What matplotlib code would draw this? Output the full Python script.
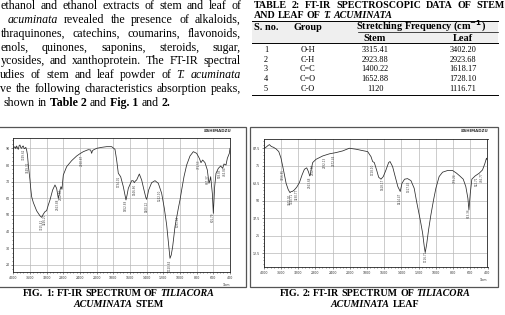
import numpy as np
import matplotlib
matplotlib.use("Agg")
import matplotlib.pyplot as plt
from matplotlib.ticker import FixedLocator

# ---------------- data ----------------
# (visible x start, justified?, words)
para_lines = [
    (0.5, True, [("ethanol", "n"), ("and", "n"), ("ethanol", "n"), ("extracts", "n"), ("of", "n"),
                 ("stem", "n"), ("and", "n"), ("leaf", "n"), ("of", "n")]),
    (7.3, True, [("acuminata", "i"), ("revealed", "n"), ("the", "n"), ("presence", "n"), ("of", "n"),
                 ("alkaloids,", "n")]),
    (0.5, True, [("thraquinones,", "n"), ("catechins,", "n"), ("coumarins,", "n"), ("flavonoids,", "n")]),
    (0.5, True, [("enols,", "n"), ("quinones,", "n"), ("saponins,", "n"), ("steroids,", "n"), ("sugar,", "n")]),
    (0.5, True, [("ycosides,", "n"), ("and", "n"), ("xanthoprotein.", "n"), ("The", "n"), ("FT-IR", "n"),
                 ("spectral", "n")]),
    (0.3, True, [("udies", "n"), ("of", "n"), ("stem", "n"), ("and", "n"), ("leaf", "n"), ("powder", "n"),
                 ("of", "n"), ("T.", "i"), ("acuminata", "i")]),
    (0.5, True, [("ve", "n"), ("the", "n"), ("following", "n"), ("characteristics", "n"),
                 ("absorption", "n"), ("peaks,", "n")]),
    (4.0, False, [("shown", "n"), ("in", "n"), ("Table 2", "b"), ("and", "n"), ("Fig. 1", "b"), ("and", "n"),
                  ("2.", "b")]),
]

table_title1 = [("TABLE", "b"), ("2:", "b"), ("FT-IR", "b"), ("SPECTROSCOPIC", "b"), ("DATA", "b"),
                ("OF", "b"), ("STEM", "b")]
table_title2 = [("AND", "b"), ("LEAF", "b"), ("OF", "b"), ("T.", "bi"), ("ACUMINATA", "bi")]
table_sno = ["1", "2", "3", "4", "5"]
table_group = ["O-H", "C-H", "C=C", "C=O", "C-O"]
table_stem = ["3315.41", "2923.88", "1400.22", "1652.88", "1120"]
table_leaf = ["3402.20", "2923.68", "1618.17", "1728.10", "1116.71"]

cap1_line1 = [("FIG.", "b"), ("1:", "b"), ("FT-IR", "b"), ("SPECTRUM", "b"), ("OF", "b"), ("TILIACORA", "bi")]
cap1_line2 = [("ACUMINATA", "bi"), ("STEM", "b")]
cap2_line1 = [("FIG.", "b"), ("2:", "b"), ("FT-IR", "b"), ("SPECTRUM", "b"), ("OF", "b"), ("TILIACORA", "bi")]
cap2_line2 = [("ACUMINATA", "bi"), ("LEAF", "b")]

x_ticks = [4000, 3600, 3200, 2800, 2400, 2000, 1800, 1600, 1400, 1200, 1000, 800, 600, 400]

stem_wn = [4000, 3960, 3940, 3920, 3900, 3880, 3860, 3840, 3820, 3800, 3780, 3760, 3740, 3720, 3700, 3680,
           3660, 3640, 3620, 3600, 3580, 3560, 3520, 3480, 3440, 3400, 3360, 3320, 3280, 3240, 3200, 3160,
           3120, 3056, 3000, 2960, 2940, 2920, 2900, 2880, 2856, 2832, 2816, 2800, 2720, 2600, 2480, 2400,
           2320, 2200, 2144, 2120, 2100, 2080, 2000, 1940, 1880, 1820, 1780, 1760, 1740, 1712, 1680, 1660,
           1648, 1635, 1620, 1580, 1560, 1548, 1535, 1520, 1488, 1460, 1432, 1410, 1400, 1388, 1376, 1340,
           1300, 1260, 1220, 1188, 1160, 1140, 1120, 1105, 1088, 1060, 1020, 1000, 980, 952, 920, 880, 840,
           800, 768, 748, 728, 700, 672, 652, 640, 632, 612, 600, 584, 568, 540, 512, 488, 472, 448, 432,
           408, 400]
stem_T = [90, 91.0, 89.8, 91.4, 90.2, 89.4, 91.6, 92, 90.4, 90, 91.2, 91.4, 89.8, 90, 90.6, 89,
          86, 80, 75.5, 71, 65.5, 61, 57.5, 55, 52.5, 51, 49.5, 48.6, 50.5, 52, 52.6, 56,
          59, 65, 68, 66, 63, 60, 62, 65, 67, 65.4, 70, 74, 79, 82.6, 85.4, 86.8,
          88, 89.2, 89, 87, 88.6, 89, 90, 90.6, 91, 91, 89.4, 83, 75, 73, 67, 62,
          59, 62, 66, 70.6, 70.5, 69.4, 70.4, 71, 74.6, 71, 65, 60.5, 59.4, 62, 65, 69.4,
          70.6, 69, 63, 54, 44, 34, 24, 26, 31, 43, 54, 59, 65, 73, 80, 85.4, 88,
          87, 84, 81.4, 83, 81.4, 77, 69, 71, 73, 63, 51, 67, 75, 78, 79.4, 78, 80.6, 80, 84,
          87, 90]

leaf_wn = [4000, 3984, 3950, 3930, 3900, 3868, 3845, 3822, 3776, 3714, 3652, 3600, 3559, 3520, 3482, 3435,
           3400, 3389, 3370, 3342, 3320, 3288, 3234, 3172, 3110, 3056, 3002, 2963, 2932, 2915, 2901, 2863,
           2786, 2630, 2476, 2321, 2166, 2012, 1928, 1851, 1793, 1754, 1735, 1716, 1689, 1665, 1638, 1611,
           1580, 1549, 1533, 1503, 1473, 1442, 1414, 1394, 1364, 1329, 1290, 1252, 1224, 1201, 1178, 1154,
           1135, 1124, 1108, 1085, 1058, 1027, 1000, 962, 922, 864, 806, 760, 722, 682, 652, 628, 616, 600,
           582, 544, 496, 458, 432, 412, 400]
leaf_T = [87.5, 87.5, 88.2, 88.7, 89.5, 90.1, 89.3, 88.7, 88.2, 87.0, 85.1, 80.4, 74.4, 68.5, 62.5, 58.2,
          56.2, 55.8, 56.5, 56.6, 57.0, 57.8, 59.7, 63, 68.5, 72.5, 73.5, 70.8, 67.7, 69, 72, 77.3,
          79.6, 82, 83.5, 84.4, 85.6, 87.5, 86.8, 85.8, 85.1, 81.5, 78, 77.3, 72, 66.8, 65.4, 67.3,
          72, 77.3, 78, 74.4, 67.3, 60.1, 56.6, 62.5, 65.4, 65.8, 64.4, 58.9, 49.4, 42.3, 35.1, 26.8,
          17.3, 13, 18.5, 29.2, 39.9, 50.6, 58.9, 67.3, 70.4, 71.6, 71.6, 69.7, 67.7, 65.4, 60.1, 51.8, 43.5, 55.4,
          65.4, 67.7, 69.7, 72, 76.3, 80.4, 78.8]

stem_peaks = ["3749.62", "3649.32", "3315.41", "3246.20", "2923.88", "2852.52",
              "2360.87", "1734.01", "1652.88", "1546.80", "1400.22", "1242.10",
              "1120.64", "1031.92", "771.53", "667.37", "601.79", "518.85", "464.84"]
leaf_peaks = ["3556.85", "3402.20", "3340.71", "3230.77", "2923.68",
              "2852.52", "2592.13", "2372.44", "1728.10", "1618.17",
              "1414.47", "1317.43", "1116.71", "779.24", "613.36", "522.71", "466.77"]

# ---------------- helpers ----------------
W, H = 506, 315
fig = plt.figure(figsize=(W / 100, H / 100), dpi=100)
page = fig.add_axes([0, 0, 1, 1])
page.set_xlim(0, W)
page.set_ylim(H, 0)
page.axis("off")
renderer = fig.canvas.get_renderer()
SERIF = "Liberation Serif"


def style_kw(st):
    return dict(fontweight="bold" if "b" in st else "normal",
                fontstyle="italic" if "i" in st else "normal",
                family=SERIF)


def measure(s, size, st):
    t = page.text(0, 0, s, fontsize=size, **style_kw(st))
    w = t.get_window_extent(renderer).width
    t.remove()
    return w


def space_w(size, st="n"):
    return measure("a a", size, st) - measure("aa", size, st)


def natural_width(words, size):
    return sum(measure(w, size, st) for w, st in words) + space_w(size) * (len(words) - 1)


def fit_size(words, target, base=8.0):
    return base * target / natural_width(words, base)


def place_words(words, y, size, x_left=None, x_right=None, center=None, justify=False, color="black"):
    widths = [measure(w, size, st) for w, st in words]
    sp = space_w(size)
    if justify:
        gap = (x_right - x_left - sum(widths)) / max(len(words) - 1, 1)
    else:
        gap = sp
    total = sum(widths) + gap * (len(words) - 1)
    x = center - total / 2 if center is not None else x_left
    for (w, st), wd in zip(words, widths):
        page.text(x, y, w, fontsize=size, va="baseline", ha="left", color=color, **style_kw(st))
        x += wd + gap


# ---------------- paragraph ----------------
PSIZE = fit_size(para_lines[-1][2], 166.0)
for i, (xvis, just, words) in enumerate(para_lines):
    y = 8.8 + 13.9 * i
    place_words(words, y, PSIZE, x_left=xvis, x_right=241, justify=just)

# ---------------- table ----------------
TS = fit_size(table_title1, 236.0)
place_words(table_title1, 8.0, TS, x_left=253.5, x_right=505, justify=True)
place_words(table_title2, 17.8, TS, x_left=253.5)
page.add_patch(plt.Rectangle((252, 21), 246, 22, color="#efefef", lw=0, zorder=0))
for yy in [21, 43, 94.5]:
    page.plot([252, 498], [yy, yy], color="black", lw=0.7)
page.plot([358, 498], [32.3, 32.3], color="black", lw=0.5)
HS = fit_size([("Stretching", "b"), ("Frequency", "b"), ("(cm-1)", "b")], 126.0)
BS = fit_size([("3402.20", "n")], 26.5)
col_x = [266, 307.5, 375, 463]
page.text(col_x[0], 29.8, "S. no.", fontsize=HS, ha="center", va="baseline", **style_kw("b"))
page.text(col_x[1], 29.8, "Group", fontsize=HS, ha="center", va="baseline", **style_kw("b"))
page.text(421, 29.8, r"Stretching Frequency (cm$^{\mathbf{-1}}$)", fontsize=HS, ha="center", va="baseline",
          **style_kw("b"))
page.text(col_x[2], 40.6, "Stem", fontsize=HS, ha="center", va="baseline", **style_kw("b"))
page.text(col_x[3], 40.6, "Leaf", fontsize=HS, ha="center", va="baseline", **style_kw("b"))
for i in range(len(table_sno)):
    y = 51.8 + 9.7 * i
    for cx, val in zip(col_x, [table_sno[i], table_group[i], table_stem[i], table_leaf[i]]):
        page.text(cx, y, val, fontsize=BS, ha="center", va="baseline", **style_kw("n"))

# ---------------- figure boxes & captions ----------------
page.add_patch(plt.Rectangle((-2, 126.5), 248, 160, fill=False, ec="#555555", lw=0.9))
page.add_patch(plt.Rectangle((250, 126.5), 248, 160.5, fill=False, ec="#555555", lw=0.9))
CS = fit_size(cap1_line1, 190.0)
place_words(cap1_line1, 296.3, CS, center=118.5)
place_words(cap1_line2, 306.8, CS, center=118.5)
place_words(cap2_line1, 296.3, CS, center=375)
place_words(cap2_line2, 306.8, CS, center=375)


# ---------------- spectra ----------------
def _t(w):
    w = np.asarray(w, dtype=float)
    return np.where(w >= 2000, (4000 - w) / 400.0, 5 + (2000 - w) / 200.0)


def fwd(w):
    return -_t(w)


def inv(s):
    t = -np.asarray(s, dtype=float)
    return np.where(t <= 5, 4000 - 400.0 * t, 2000 - 200.0 * (t - 5))


minor_x = [4000 - 80 * k for k in range(26)] + [2000 - 40 * k for k in range(41)]


def spectrum(box, wn, T, ylim, yticks, ylabels, ystep_minor, peaks, logo_xy):
    l, t, r, b = box
    ax = fig.add_axes([l / W, 1 - b / H, (r - l) / W, (b - t) / H])
    ax.set_xscale("function", functions=(fwd, inv))
    ax.plot(wn, T, color="#2a2a2a", lw=0.55)
    ax.set_xlim(4000, 400)
    ax.set_ylim(*ylim)
    ax.set_xticks(x_ticks)
    ax.set_xticklabels([str(v) for v in x_ticks])
    ax.xaxis.set_minor_locator(FixedLocator(minor_x))
    ax.set_yticks(yticks)
    ax.set_yticklabels(ylabels)
    ax.yaxis.set_minor_locator(FixedLocator(np.arange(ylim[0] - ylim[0] % ystep_minor, ylim[1], ystep_minor)))
    ax.grid(True, which="major", color="#b8b8b8", lw=0.5)
    ax.tick_params(which="both", labelsize=2.3, length=1.6, width=0.4, pad=1, color="#333333",
                   labelcolor="#333333")
    ax.tick_params(which="minor", length=0.9)
    for s in ax.spines.values():
        s.set_linewidth(0.6)
        s.set_color("#222222")
    wa = np.array(wn, dtype=float)[::-1]
    Ta = np.array(T, dtype=float)[::-1]
    for lab in peaks:
        w = float(lab)
        yv = np.interp(w, wa, Ta)
        ax.annotate(lab, (w, yv), xytext=(0, -1.2), textcoords="offset points", rotation=90,
                    ha="center", va="top", fontsize=2.0, color="#444444")
    ax.text(1.0, -0.085, "1/cm", transform=ax.transAxes, fontsize=2.2, ha="right", va="top", color="#333333")
    page.text(logo_xy[0], logo_xy[1], "\u229eSHIMADZU", fontsize=2.9, fontweight="bold", ha="right",
              va="center", color="#333333", family="DejaVu Sans")
    return ax


spectrum((13.3, 138, 230, 272), stem_wn, stem_T, (15.8, 96.2), [20, 30, 40, 50, 60, 70, 80, 90],
         ["20", "30", "40", "50", "60", "70", "80", "90"], 2.5, stem_peaks, (231, 131))
spectrum((263.8, 139, 487.5, 267), leaf_wn, leaf_T, (2.7, 94.1), [12.5, 25, 37.5, 50, 62.5, 75, 87.5],
         ["12.5", "25", "37.5", "50", "62.5", "75", "87.5"], 2.5, leaf_peaks, (488, 131))

fig.savefig("out.png", dpi=100)
